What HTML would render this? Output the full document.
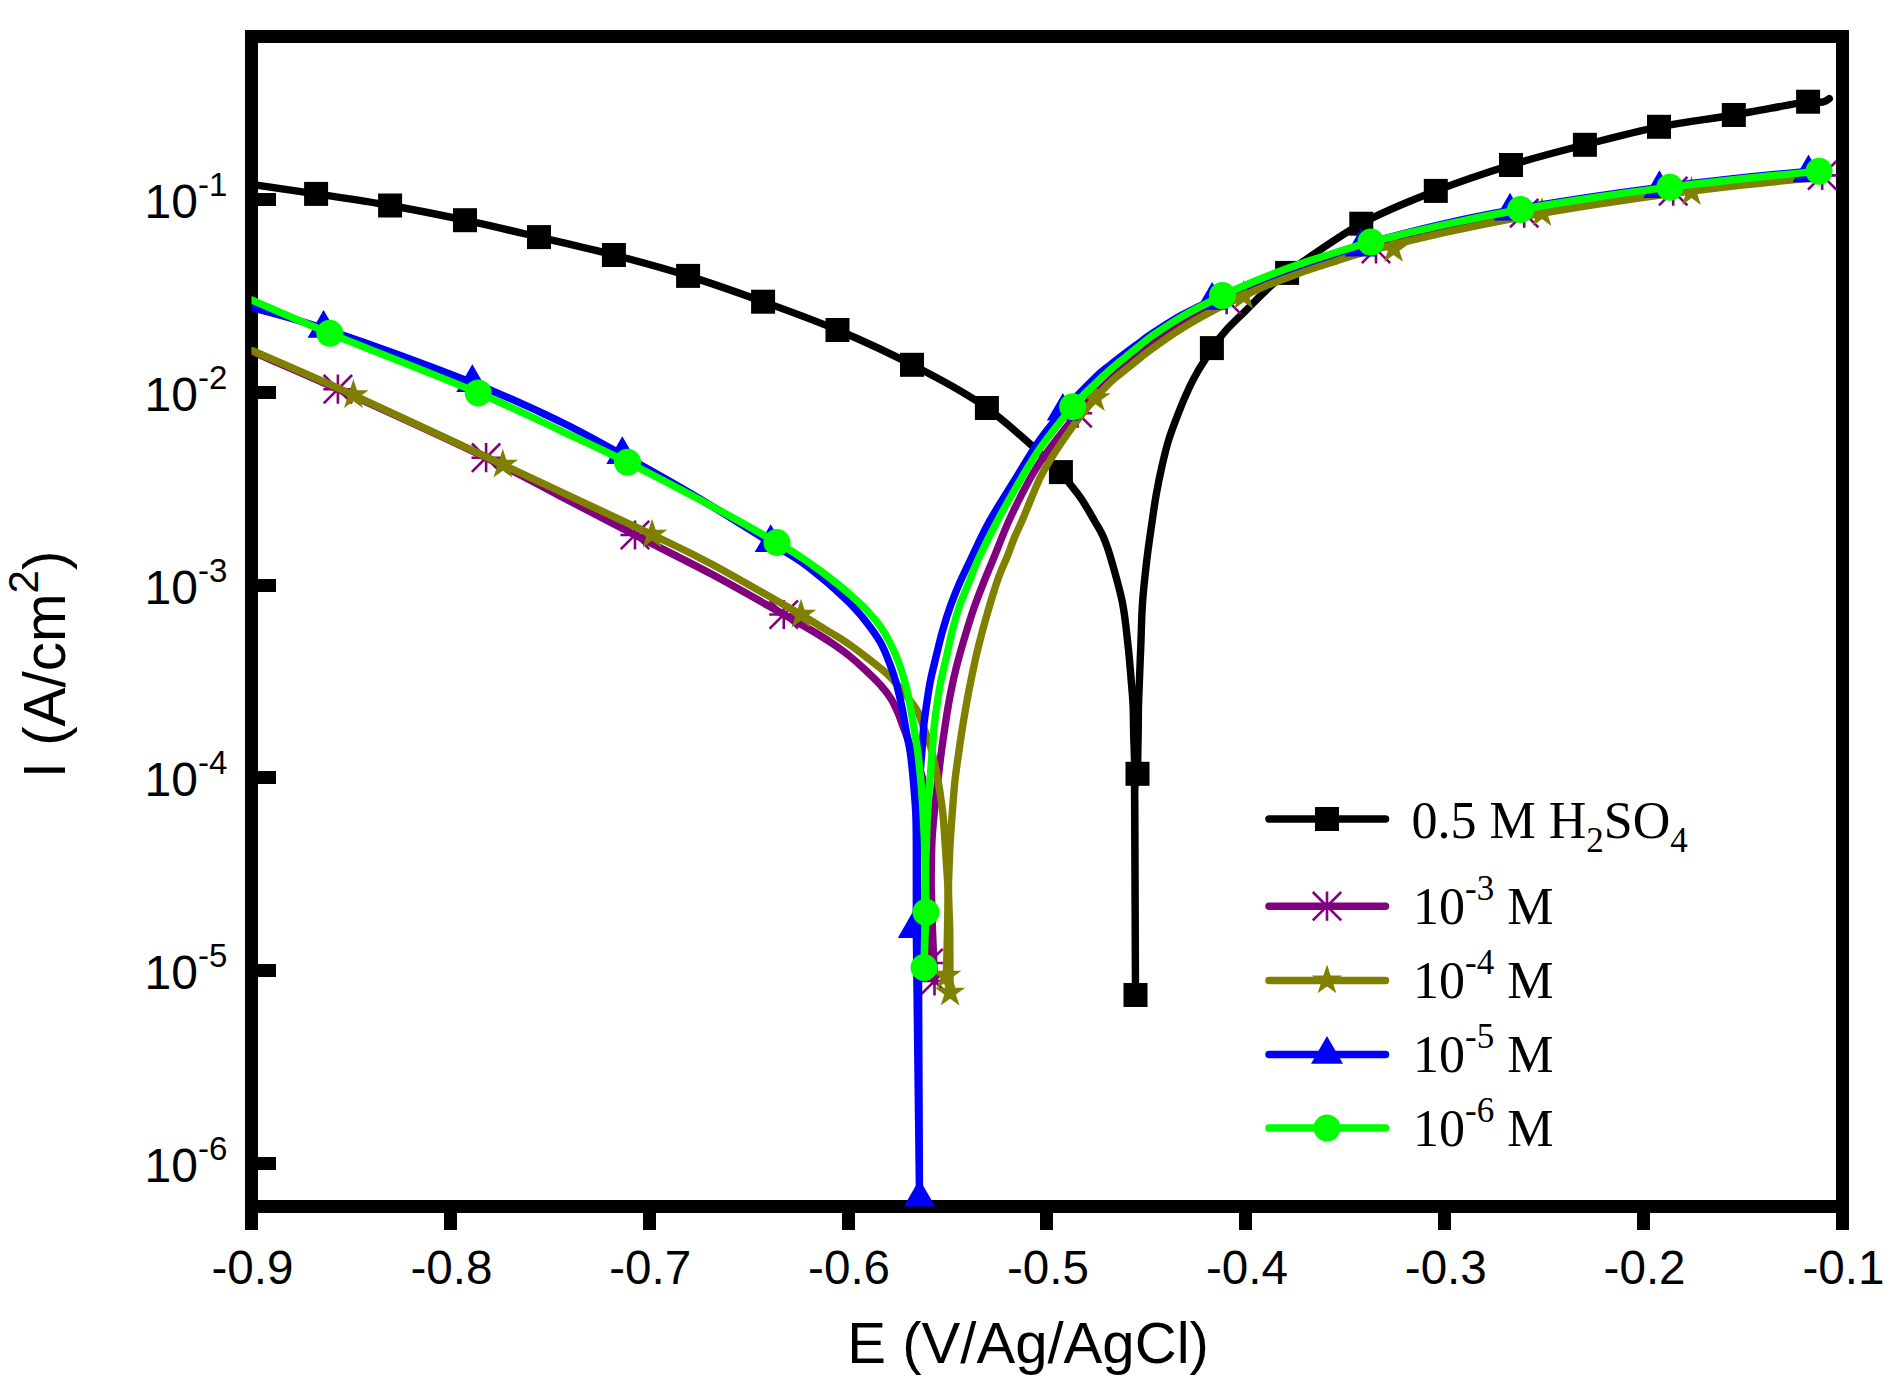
<!DOCTYPE html>
<html lang="en"><head><meta charset="utf-8"><title>Tafel polarization curves</title>
<style>html,body{margin:0;padding:0;background:#fff}body{width:1902px;height:1396px;overflow:hidden}svg{display:block}.a{font-family:"Liberation Sans",Arial,Helvetica,sans-serif;fill:#000}.s{font-family:"Liberation Serif","Times New Roman",Times,serif;fill:#000}</style></head><body>
<svg width="1902" height="1396" viewBox="0 0 1902 1396">
<rect width="1902" height="1396" fill="#fff"/>
<defs><clipPath id="cp"><rect x="251.5" y="36.5" width="1591" height="1170"/></clipPath></defs>
<g fill="#000" shape-rendering="crispEdges">
<path fill-rule="evenodd" d="M245 30H1849V1213H245ZM258 43V1200H1836V43Z"/>
<rect x="245" y="1212" width="13" height="18"/>
<rect x="444" y="1212" width="13" height="18"/>
<rect x="643" y="1212" width="13" height="18"/>
<rect x="842" y="1212" width="13" height="18"/>
<rect x="1040" y="1212" width="13" height="18"/>
<rect x="1239" y="1212" width="13" height="18"/>
<rect x="1438" y="1212" width="13" height="18"/>
<rect x="1637" y="1212" width="13" height="18"/>
<rect x="1836" y="1212" width="13" height="18"/>
<rect x="257" y="193" width="19" height="13"/>
<rect x="257" y="386" width="19" height="13"/>
<rect x="257" y="579" width="19" height="13"/>
<rect x="257" y="771" width="19" height="13"/>
<rect x="257" y="964" width="19" height="13"/>
<rect x="257" y="1157" width="19" height="13"/>
</g>
<g class="a" font-size="47.6" text-anchor="middle">
<text x="252.5" y="1283.5">-0.9</text>
<text x="451.4" y="1283.5">-0.8</text>
<text x="650.2" y="1283.5">-0.7</text>
<text x="849.1" y="1283.5">-0.6</text>
<text x="1048.0" y="1283.5">-0.5</text>
<text x="1246.9" y="1283.5">-0.4</text>
<text x="1445.8" y="1283.5">-0.3</text>
<text x="1644.6" y="1283.5">-0.2</text>
<text x="1843.5" y="1283.5">-0.1</text>
</g>
<g class="a" font-size="48">
<text x="144.6" y="217.9">10<tspan font-size="33" dy="-22">-1</tspan></text>
<text x="144.6" y="410.7">10<tspan font-size="33" dy="-22">-2</tspan></text>
<text x="144.6" y="603.5">10<tspan font-size="33" dy="-22">-3</tspan></text>
<text x="144.6" y="796.3">10<tspan font-size="33" dy="-22">-4</tspan></text>
<text x="144.6" y="989.1">10<tspan font-size="33" dy="-22">-5</tspan></text>
<text x="144.6" y="1181.9">10<tspan font-size="33" dy="-22">-6</tspan></text>
</g>
<text class="a" font-size="58.1" x="847.3" y="1362.8">E (V/Ag/AgCl)</text>
<text class="a" font-size="58.4" transform="translate(64.8 778.3) rotate(-90)">I (A/cm<tspan font-size="42" dy="-26.6">2</tspan><tspan dy="26.6">)</tspan></text>
<g clip-path="url(#cp)" fill="none" stroke-width="7.4" stroke-linejoin="round" stroke-linecap="round">
<path stroke="#000000" d="M251.5 184.3C262.3 185.9 293.0 190.4 316.1 193.9C339.2 197.4 365.3 201.1 390.1 205.5C414.9 209.9 440.2 214.9 465.0 220.2C489.8 225.5 514.2 231.3 539.0 237.1C563.8 242.9 589.0 248.5 613.9 255.0C638.8 261.5 663.2 268.1 688.1 275.9C713.0 283.7 738.2 292.7 763.1 301.7C788.0 310.7 812.7 319.5 837.5 330.0C862.3 340.5 887.1 351.8 912.0 364.8C936.9 377.8 962.1 390.1 986.9 408.0C1011.7 425.9 1047.2 459.6 1060.9 472.1C1074.7 484.7 1066.1 478.9 1069.4 483.3C1072.8 487.7 1076.8 492.1 1081.0 498.3C1085.2 504.5 1090.5 513.9 1094.3 520.5C1098.1 527.1 1101.0 531.4 1103.8 538.0C1106.6 544.6 1108.2 549.2 1111.3 560.0C1114.4 570.8 1119.7 588.7 1122.5 603.0C1125.3 617.3 1126.5 631.7 1128.1 646.0C1129.7 660.3 1131.1 679.0 1131.9 689.0C1132.7 699.0 1132.8 698.8 1133.1 706.0C1133.4 713.2 1133.4 722.8 1133.6 732.0C1133.8 741.2 1134.3 749.7 1134.5 761.0C1134.7 772.3 1134.4 761.0 1134.6 800.0C1134.8 839.0 1135.3 962.5 1135.5 995.0C1135.4 962.5 1134.9 832.5 1134.8 800.0C1134.8 797.8 1134.5 791.4 1134.9 787.0C1135.4 782.6 1137.1 776.0 1137.5 773.8C1137.6 766.8 1138.0 743.3 1138.2 732.0C1138.4 720.7 1138.3 713.2 1138.5 706.0C1138.7 698.8 1138.7 699.0 1139.1 689.0C1139.5 679.0 1140.2 660.3 1140.8 646.0C1141.4 631.7 1141.5 617.3 1142.5 603.0C1143.5 588.7 1145.2 573.7 1146.8 560.0C1148.4 546.3 1150.6 531.9 1152.2 520.9C1153.8 509.9 1154.7 503.2 1156.3 494.2C1157.9 485.2 1159.7 475.9 1161.8 466.8C1163.9 457.7 1166.0 448.6 1168.8 439.5C1171.6 430.4 1175.4 420.8 1178.8 412.1C1182.2 403.4 1186.1 394.4 1189.3 387.5C1192.5 380.6 1195.3 375.7 1198.0 371.0C1200.7 366.3 1202.9 363.2 1205.2 359.4C1207.5 355.6 1208.6 352.8 1211.9 348.1C1215.2 343.4 1219.5 337.5 1225.0 331.4C1230.5 325.3 1238.3 318.0 1245.0 311.4C1251.7 304.8 1258.0 297.9 1265.0 291.5C1272.0 285.1 1271.0 284.2 1287.1 272.9C1303.1 261.6 1336.5 237.4 1361.3 223.7C1386.1 210.0 1410.8 200.7 1435.8 190.9C1460.8 181.1 1486.2 172.7 1511.0 165.0C1535.8 157.3 1560.2 151.2 1584.9 144.8C1609.6 138.4 1634.2 131.8 1659.0 126.8C1683.8 121.8 1709.0 119.2 1733.8 115.0C1758.6 110.8 1793.7 103.8 1808.1 101.7C1822.5 99.6 1817.1 102.5 1820.0 102.4C1822.9 102.3 1824.0 101.6 1825.5 101.0C1827.0 100.4 1828.7 99.0 1829.3 98.6"/>
<g fill="#000000" stroke="none">
<rect x="304.1" y="181.9" width="24" height="24"/>
<rect x="378.1" y="193.5" width="24" height="24"/>
<rect x="453.0" y="208.2" width="24" height="24"/>
<rect x="527.0" y="225.1" width="24" height="24"/>
<rect x="601.9" y="243.0" width="24" height="24"/>
<rect x="676.1" y="263.9" width="24" height="24"/>
<rect x="751.1" y="289.7" width="24" height="24"/>
<rect x="825.5" y="318.0" width="24" height="24"/>
<rect x="900.0" y="352.8" width="24" height="24"/>
<rect x="974.9" y="396.0" width="24" height="24"/>
<rect x="1048.9" y="460.1" width="24" height="24"/>
<rect x="1125.5" y="761.8" width="24" height="24"/>
<rect x="1123.5" y="983.0" width="24" height="24"/>
<rect x="1199.9" y="336.1" width="24" height="24"/>
<rect x="1275.1" y="260.9" width="24" height="24"/>
<rect x="1349.3" y="211.7" width="24" height="24"/>
<rect x="1423.8" y="178.9" width="24" height="24"/>
<rect x="1499.0" y="153.0" width="24" height="24"/>
<rect x="1572.9" y="132.8" width="24" height="24"/>
<rect x="1647.0" y="114.8" width="24" height="24"/>
<rect x="1721.8" y="103.0" width="24" height="24"/>
<rect x="1796.1" y="89.7" width="24" height="24"/>
</g>
<path stroke="#800080" d="M251.5 351.5C265.9 357.8 298.8 371.5 337.9 389.2C377.0 406.9 449.1 439.9 486.1 457.7C523.1 475.5 535.2 483.1 560.0 496.0C584.8 508.9 609.8 522.0 635.0 535.0C660.2 548.0 686.6 560.9 711.4 574.1C736.2 587.4 769.0 606.2 783.8 614.5C798.6 622.8 794.0 620.2 800.0 623.7C806.0 627.2 814.2 631.9 820.0 635.5C825.8 639.1 830.0 641.8 835.0 645.3C840.0 648.8 845.1 652.4 850.1 656.5C855.1 660.6 860.1 665.1 865.1 669.8C870.1 674.5 875.9 680.0 880.2 684.8C884.5 689.5 887.7 693.5 890.7 698.3C893.7 703.1 896.2 708.9 898.2 713.4C900.2 717.9 900.7 720.1 902.7 725.4C904.7 730.7 907.6 738.9 910.0 745.0C912.4 751.1 914.9 756.5 917.0 762.0C919.1 767.5 921.1 771.7 922.5 778.0C923.9 784.3 924.8 789.7 925.5 800.0C926.2 810.3 926.6 823.3 927.0 840.0C927.4 856.7 927.8 879.5 928.0 900.0C928.2 920.5 928.4 952.5 928.5 963.0C929.5 966.0 933.5 978.0 934.5 981.0C934.2 972.5 932.8 938.5 932.5 930.0C932.3 923.3 931.5 899.9 931.3 890.0C931.1 880.1 931.2 878.7 931.3 870.4C931.4 862.1 931.5 850.3 932.0 840.3C932.5 830.3 933.5 820.6 934.5 810.2C935.5 799.8 937.0 788.0 938.2 778.0C939.4 768.0 940.2 760.0 941.6 750.0C943.0 740.0 944.8 727.5 946.3 717.9C947.8 708.3 949.0 701.1 950.8 692.3C952.5 683.5 954.5 674.3 956.8 665.3C959.1 656.3 961.6 647.5 964.4 638.2C967.2 628.9 970.4 618.4 973.4 609.6C976.4 600.8 979.1 593.9 982.4 585.6C985.6 577.3 987.9 572.1 992.9 560.0C997.9 547.9 1004.7 529.1 1012.5 513.0C1020.3 496.9 1028.7 479.7 1039.5 463.1C1050.3 446.5 1068.3 424.6 1077.6 413.2C1086.8 401.8 1089.6 400.2 1095.0 394.7C1100.4 389.1 1105.0 384.6 1110.0 379.9C1115.0 375.2 1120.0 370.9 1125.0 366.5C1130.0 362.0 1135.5 357.2 1140.0 353.4C1144.5 349.6 1145.0 348.7 1152.0 343.7C1159.0 338.7 1170.3 330.5 1182.0 323.4C1193.7 316.4 1209.4 307.8 1222.4 301.3C1235.4 294.8 1247.6 289.6 1260.0 284.5C1272.4 279.3 1284.5 274.7 1297.0 270.3C1309.5 265.9 1322.7 261.7 1335.0 257.9C1347.3 254.0 1352.6 251.9 1370.9 247.1C1389.2 242.3 1420.1 234.7 1445.0 229.1C1469.9 223.6 1495.5 218.3 1520.5 213.7C1545.5 209.2 1570.1 205.4 1595.0 201.7C1619.9 198.0 1644.9 194.6 1669.9 191.4C1694.9 188.3 1720.2 185.4 1745.0 182.8C1769.8 180.1 1805.8 176.9 1819.0 175.6C1832.2 174.3 1823.2 175.2 1824.0 175.1"/>
<g stroke="#800080" stroke-width="2.6" stroke-linecap="butt">
<path d="M337.9 374.6V403.8M323.3 389.2H352.5M323.7 375.0L352.1 403.4M323.7 403.4L352.1 375.0"/>
<path d="M486.1 443.1V472.3M471.5 457.7H500.7M471.9 443.5L500.3 471.9M471.9 471.9L500.3 443.5"/>
<path d="M635.0 520.4V549.6M620.4 535.0H649.6M620.8 520.8L649.2 549.2M620.8 549.2L649.2 520.8"/>
<path d="M783.8 599.9V629.1M769.2 614.5H798.4M769.6 600.3L798.0 628.7M769.6 628.7L798.0 600.3"/>
<path d="M928.5 948.4V977.6M913.9 963.0H943.1M914.3 948.8L942.7 977.2M914.3 977.2L942.7 948.8"/>
<path d="M934.5 966.4V995.6M919.9 981.0H949.1M920.3 966.8L948.7 995.2M920.3 995.2L948.7 966.8"/>
<path d="M1077.6 398.6V427.8M1063.0 413.2H1092.2M1063.4 399.0L1091.8 427.4M1063.4 427.4L1091.8 399.0"/>
<path d="M1226.6 285.0V314.2M1212.0 299.6H1241.2M1212.4 285.4L1240.8 313.8M1212.4 313.8L1240.8 285.4"/>
<path d="M1376.0 234.4V263.6M1361.4 249.0H1390.6M1361.8 234.8L1390.2 263.2M1361.8 263.2L1390.2 234.8"/>
<path d="M1524.2 198.6V227.8M1509.6 213.2H1538.8M1510.0 199.0L1538.4 227.4M1510.0 227.4L1538.4 199.0"/>
<path d="M1673.2 176.5V205.7M1658.6 191.1H1687.8M1659.0 176.9L1687.4 205.3M1659.0 205.3L1687.4 176.9"/>
<path d="M1822.2 160.8V190.0M1807.6 175.4H1836.8M1808.0 161.2L1836.4 189.6M1808.0 189.6L1836.4 161.2"/>
</g>
<path stroke="#808000" d="M251.5 350.3C268.5 357.8 311.5 376.0 353.4 395.1C395.3 414.2 453.0 441.4 502.8 464.7C552.6 488.0 617.3 518.2 652.1 534.7C686.9 551.2 686.6 550.7 711.4 564.0C736.2 577.3 782.9 604.3 801.0 614.7C819.1 625.1 814.3 622.8 820.0 626.2C825.7 629.6 830.0 632.1 835.0 635.2C840.0 638.3 845.1 641.5 850.1 645.0C855.1 648.5 860.1 652.4 865.1 656.2C870.1 660.0 875.9 664.5 880.2 668.0C884.5 671.5 886.9 673.4 890.7 677.3C894.5 681.2 898.8 686.2 903.0 691.5C907.2 696.8 913.2 704.2 916.2 708.9C919.2 713.5 918.8 714.1 920.8 719.4C922.8 724.7 926.5 735.4 928.3 740.5C930.1 745.6 929.9 743.4 931.5 750.0C933.1 756.6 936.2 770.1 938.0 780.1C939.8 790.1 941.5 801.9 942.5 810.2C943.5 818.5 943.5 820.0 944.2 830.0C944.9 840.0 946.3 860.4 946.9 870.4C947.5 880.4 947.8 880.1 947.9 890.0C948.0 899.9 947.8 915.7 947.5 930.0C947.2 944.3 946.5 968.0 946.3 975.6C946.9 978.5 949.5 989.9 950.1 992.7C950.0 982.2 949.8 940.5 949.8 930.0C949.6 923.3 948.6 899.9 948.5 890.0C948.4 880.1 948.7 878.7 949.0 870.4C949.3 862.1 949.7 850.3 950.3 840.3C950.9 830.3 951.7 820.2 952.5 810.2C953.3 800.2 954.0 789.2 955.0 780.1C956.0 771.0 957.1 763.9 958.3 755.5C959.5 747.1 960.7 738.7 962.1 729.9C963.5 721.1 965.0 711.9 966.6 702.9C968.2 693.9 970.0 684.8 971.9 675.8C973.8 666.8 975.6 658.0 977.9 648.7C980.1 639.4 982.9 629.2 985.4 620.2C987.9 611.2 990.5 602.4 992.9 594.6C995.3 586.8 997.7 579.6 1000.0 573.5C1002.3 567.4 1004.3 563.8 1006.7 557.9C1009.1 552.0 1011.5 544.6 1014.3 538.0C1017.0 531.4 1018.9 528.0 1023.2 518.0C1027.5 508.0 1035.0 488.5 1040.0 478.0C1045.0 467.5 1048.7 462.3 1053.3 455.0C1057.9 447.7 1062.8 440.6 1067.4 434.0C1072.0 427.4 1076.3 421.5 1081.0 415.5C1085.7 409.5 1090.6 403.6 1095.4 398.1C1100.2 392.6 1105.1 387.3 1110.0 382.6C1114.9 377.9 1120.0 374.2 1125.0 370.2C1130.0 366.1 1135.5 361.7 1140.0 358.1C1144.5 354.6 1145.0 353.8 1152.0 348.8C1159.0 343.8 1170.3 335.4 1182.0 328.3C1193.7 321.1 1209.4 312.5 1222.4 305.8C1235.4 299.2 1247.6 293.6 1260.0 288.3C1272.4 283.0 1284.5 278.4 1297.0 273.9C1309.5 269.4 1322.7 265.3 1335.0 261.4C1347.3 257.5 1352.6 255.3 1370.9 250.5C1389.2 245.7 1420.1 238.1 1445.0 232.5C1469.9 227.0 1495.5 221.8 1520.5 217.1C1545.5 212.5 1570.1 208.5 1595.0 204.6C1619.9 200.8 1644.9 197.1 1669.9 193.8C1694.9 190.5 1720.2 187.6 1745.0 184.8C1769.8 182.1 1805.8 178.7 1819.0 177.3C1832.2 176.0 1823.2 176.9 1824.0 176.8"/>
<g fill="#808000" stroke="none">
<path d="M353.4 379.1L357.0 390.2L368.6 390.2L359.2 397.0L362.8 408.0L353.4 401.2L344.0 408.0L347.6 397.0L338.2 390.2L349.8 390.2Z"/>
<path d="M502.8 448.7L506.4 459.8L518.0 459.8L508.6 466.6L512.2 477.6L502.8 470.8L493.4 477.6L497.0 466.6L487.6 459.8L499.2 459.8Z"/>
<path d="M652.1 518.7L655.7 529.8L667.3 529.8L657.9 536.6L661.5 547.6L652.1 540.8L642.7 547.6L646.3 536.6L636.9 529.8L648.5 529.8Z"/>
<path d="M801.0 598.7L804.6 609.8L816.2 609.8L806.8 616.6L810.4 627.6L801.0 620.8L791.6 627.6L795.2 616.6L785.8 609.8L797.4 609.8Z"/>
<path d="M946.3 959.6L949.9 970.7L961.5 970.7L952.1 977.5L955.7 988.5L946.3 981.7L936.9 988.5L940.5 977.5L931.1 970.7L942.7 970.7Z"/>
<path d="M950.1 976.7L953.7 987.8L965.3 987.8L955.9 994.6L959.5 1005.6L950.1 998.8L940.7 1005.6L944.3 994.6L934.9 987.8L946.5 987.8Z"/>
<path d="M1095.4 382.1L1099.0 393.2L1110.6 393.2L1101.2 400.0L1104.8 411.0L1095.4 404.2L1086.0 411.0L1089.6 400.0L1080.2 393.2L1091.8 393.2Z"/>
<path d="M1243.7 279.8L1247.3 290.9L1258.9 290.9L1249.5 297.7L1253.1 308.7L1243.7 301.9L1234.3 308.7L1237.9 297.7L1228.5 290.9L1240.1 290.9Z"/>
<path d="M1393.6 232.9L1397.2 244.0L1408.8 244.0L1399.4 250.8L1403.0 261.8L1393.6 255.0L1384.2 261.8L1387.8 250.8L1378.4 244.0L1390.0 244.0Z"/>
<path d="M1542.0 197.0L1545.6 208.1L1557.2 208.1L1547.8 214.9L1551.4 225.9L1542.0 219.1L1532.6 225.9L1536.2 214.9L1526.8 208.1L1538.4 208.1Z"/>
<path d="M1691.5 176.0L1695.1 187.1L1706.7 187.1L1697.3 193.9L1700.9 204.9L1691.5 198.1L1682.1 204.9L1685.7 193.9L1676.3 187.1L1687.9 187.1Z"/>
</g>
<path stroke="#0000ff" d="M251.5 307.5C263.5 311.0 286.8 316.0 323.6 328.5C360.4 341.0 432.9 367.2 472.3 382.7C511.7 398.2 535.0 409.5 560.0 421.5C585.0 433.5 599.0 441.9 622.3 454.8C645.6 467.7 675.3 484.3 700.0 499.0C724.7 513.7 754.0 532.5 770.7 542.8C787.4 553.1 791.8 555.4 800.0 561.0C808.2 566.6 814.2 571.8 820.0 576.5C825.8 581.2 830.0 584.8 835.0 589.3C840.0 593.8 845.1 598.3 850.1 603.5C855.1 608.7 860.1 614.1 865.1 620.5C870.1 626.9 876.2 635.0 880.2 642.0C884.2 649.0 886.5 655.2 889.2 662.3C892.0 669.4 894.6 677.3 896.7 684.8C898.8 692.3 900.4 699.4 902.0 707.4C903.6 715.4 905.1 725.5 906.5 732.9C907.9 740.3 909.2 745.0 910.2 752.0C911.2 759.0 911.9 765.3 912.8 775.0C913.7 784.7 915.0 799.3 915.6 810.2C916.2 821.1 916.2 820.3 916.3 840.3C916.4 860.3 916.3 915.0 916.3 930.0C916.8 974.6 919.0 1153.2 919.5 1197.8C919.3 1153.2 918.5 974.6 918.3 930.0C918.2 921.7 917.7 895.0 917.5 880.0C917.3 865.0 917.2 851.7 917.3 840.0C917.4 828.3 917.5 821.7 918.0 810.0C918.5 798.3 919.7 780.3 920.4 770.0C921.1 759.7 921.6 755.4 922.2 748.0C922.8 740.6 923.0 732.9 923.8 725.4C924.6 717.9 925.7 710.4 926.8 702.9C927.9 695.4 929.0 687.8 930.5 680.3C932.0 672.8 933.8 666.0 935.8 657.7C937.8 649.4 940.1 639.5 942.6 630.7C945.1 621.9 947.9 613.1 950.8 605.1C953.7 597.1 956.5 590.1 959.8 582.6C963.1 575.1 965.6 569.9 970.4 560.0C975.2 550.1 981.2 536.2 988.5 523.0C995.8 509.8 1005.8 494.6 1014.3 480.8C1022.8 467.0 1031.4 452.0 1039.5 440.4C1047.6 428.8 1053.5 421.8 1062.8 411.4C1072.0 401.0 1087.1 385.5 1095.0 377.8C1102.9 370.1 1105.0 369.1 1110.0 365.1C1115.0 361.1 1120.0 357.3 1125.0 353.5C1130.0 349.7 1135.5 345.7 1140.0 342.4C1144.5 339.1 1145.0 338.2 1152.0 333.7C1159.0 329.2 1170.3 321.5 1182.0 315.1C1193.7 308.8 1209.4 301.4 1222.4 295.6C1235.4 289.8 1247.6 285.1 1260.0 280.2C1272.4 275.3 1284.5 270.8 1297.0 266.4C1309.5 262.0 1322.7 257.8 1335.0 253.8C1347.3 249.7 1352.6 247.3 1370.9 242.2C1389.2 237.2 1420.1 229.1 1445.0 223.5C1469.9 217.9 1495.5 213.0 1520.5 208.5C1545.5 204.0 1570.1 200.2 1595.0 196.5C1619.9 192.8 1644.9 189.4 1669.9 186.2C1694.9 183.0 1720.2 180.2 1745.0 177.5C1769.8 174.8 1805.8 171.6 1819.0 170.3C1832.2 169.0 1823.2 169.9 1824.0 169.8"/>
<g fill="#0000ff" stroke="none">
<path d="M323.6 310.0L339.6 337.8L307.6 337.8Z"/>
<path d="M472.3 364.2L488.3 391.9L456.3 391.9Z"/>
<path d="M622.3 436.3L638.3 464.1L606.3 464.1Z"/>
<path d="M770.7 524.3L786.7 552.0L754.7 552.0Z"/>
<path d="M913.8 910.1L929.8 937.9L897.8 937.9Z"/>
<path d="M919.5 1179.3L935.5 1207.0L903.5 1207.0Z"/>
<path d="M1062.8 392.9L1078.8 420.6L1046.8 420.6Z"/>
<path d="M1212.1 282.0L1228.1 309.8L1196.1 309.8Z"/>
<path d="M1360.8 228.6L1376.8 256.4L1344.8 256.4Z"/>
<path d="M1510.0 192.7L1526.0 220.4L1494.0 220.4Z"/>
<path d="M1659.4 170.3L1675.4 198.1L1643.4 198.1Z"/>
<path d="M1808.5 154.4L1824.5 182.2L1792.5 182.2Z"/>
</g>
<path stroke="#00ff00" d="M251.5 300.0C264.6 305.6 292.0 317.8 329.8 333.3C367.6 348.8 439.8 376.7 478.2 392.9C516.6 409.1 535.1 418.7 560.0 430.3C584.9 441.9 602.3 449.7 627.5 462.3C652.7 474.9 686.5 492.6 711.4 506.0C736.3 519.4 762.2 534.1 777.0 542.5C791.8 550.9 792.8 551.8 800.0 556.5C807.2 561.2 814.2 566.2 820.0 570.5C825.8 574.8 830.0 578.0 835.0 582.0C840.0 586.0 845.1 590.1 850.1 594.5C855.1 598.9 860.1 603.2 865.1 608.5C870.1 613.8 875.9 620.2 880.2 626.2C884.5 632.2 887.5 637.7 890.7 644.2C894.0 650.7 897.1 658.0 899.7 665.3C902.3 672.6 904.6 680.3 906.5 687.8C908.4 695.3 909.6 702.9 911.0 710.4C912.4 717.9 913.6 726.0 914.7 732.9C915.8 739.8 916.8 744.1 917.8 752.0C918.8 759.9 919.9 770.4 920.8 780.1C921.6 789.8 922.3 800.2 922.9 810.2C923.5 820.2 924.0 830.3 924.4 840.3C924.8 850.3 925.1 858.4 925.2 870.4C925.3 882.4 925.4 895.8 925.2 912.0C925.0 928.2 924.2 958.2 924.0 967.5C924.3 958.3 925.5 928.5 925.8 912.3C926.1 896.1 925.6 882.4 925.7 870.4C925.8 858.4 926.2 850.3 926.5 840.3C926.8 830.3 927.1 820.2 927.7 810.2C928.3 800.2 929.2 790.1 930.0 780.1C930.8 770.1 931.6 759.1 932.3 750.0C933.0 740.9 933.5 733.2 934.3 725.4C935.1 717.5 936.2 710.4 937.3 702.9C938.4 695.4 939.6 687.8 941.1 680.3C942.6 672.8 944.4 666.0 946.3 657.7C948.2 649.4 950.0 639.5 952.3 630.7C954.5 621.9 957.0 613.1 959.8 605.1C962.6 597.1 965.9 590.1 968.9 582.6C971.9 575.1 973.1 570.4 977.9 560.0C982.7 549.6 991.8 531.6 997.9 520.0C1004.0 508.4 1007.4 502.3 1014.3 490.5C1021.2 478.7 1029.8 463.2 1039.5 449.2C1049.2 435.2 1063.5 417.6 1072.7 406.7C1082.0 395.8 1088.8 389.9 1095.0 383.8C1101.2 377.7 1105.0 374.4 1110.0 370.0C1115.0 365.6 1120.0 361.6 1125.0 357.5C1130.0 353.4 1135.5 349.0 1140.0 345.4C1144.5 341.8 1145.0 340.8 1152.0 336.0C1159.0 331.2 1170.3 323.3 1182.0 316.6C1193.7 309.9 1209.4 301.9 1222.4 295.6C1235.4 289.3 1247.6 284.1 1260.0 279.0C1272.4 273.9 1284.5 269.4 1297.0 265.0C1309.5 260.6 1322.7 256.5 1335.0 252.7C1347.3 248.9 1352.6 246.8 1370.9 242.1C1389.2 237.4 1420.1 229.9 1445.0 224.5C1469.9 219.1 1495.5 214.0 1520.5 209.5C1545.5 205.0 1570.1 201.2 1595.0 197.5C1619.9 193.8 1644.9 190.4 1669.9 187.2C1694.9 184.0 1720.2 181.2 1745.0 178.5C1769.8 175.8 1805.8 172.6 1819.0 171.3C1832.2 170.0 1823.2 170.9 1824.0 170.8"/>
<g fill="#00ff00" stroke="none">
<circle cx="329.8" cy="333.3" r="13.5"/>
<circle cx="478.2" cy="392.9" r="13.5"/>
<circle cx="627.5" cy="462.3" r="13.5"/>
<circle cx="777.0" cy="542.5" r="13.5"/>
<circle cx="926.0" cy="912.3" r="13.5"/>
<circle cx="924.0" cy="967.5" r="13.5"/>
<circle cx="1072.7" cy="406.7" r="13.5"/>
<circle cx="1222.4" cy="295.6" r="13.5"/>
<circle cx="1370.9" cy="242.1" r="13.5"/>
<circle cx="1520.5" cy="209.5" r="13.5"/>
<circle cx="1669.9" cy="187.2" r="13.5"/>
<circle cx="1819.0" cy="171.3" r="13.5"/>
</g>
</g>
<g stroke-width="7.5" stroke-linecap="round">
<path stroke="#000000" d="M1269 819.0H1385.5"/>
<g fill="#000000" stroke="none"><rect x="1315.0" y="807.0" width="24" height="24"/></g>
<path stroke="#800080" d="M1269 906.2H1385.5"/>
<g stroke="#800080" stroke-width="2.6" stroke-linecap="butt" fill="none"><path d="M1327.0 891.6V920.8M1312.4 906.2H1341.6M1312.8 892.0L1341.2 920.4M1312.8 920.4L1341.2 892.0"/></g>
<path stroke="#808000" d="M1269 980.4H1385.5"/>
<g fill="#808000" stroke="none"><path d="M1327.0 964.4L1330.6 975.5L1342.2 975.5L1332.8 982.3L1336.4 993.3L1327.0 986.5L1317.6 993.3L1321.2 982.3L1311.8 975.5L1323.4 975.5Z"/></g>
<path stroke="#0000ff" d="M1269 1054.5H1385.5"/>
<g fill="#0000ff" stroke="none"><path d="M1327.0 1036.0L1343.0 1063.8L1311.0 1063.8Z"/></g>
<path stroke="#00ff00" d="M1269 1128.0H1385.5"/>
<g fill="#00ff00" stroke="none"><circle cx="1327.0" cy="1128.0" r="13.5"/></g>
</g>
<g class="s" font-size="52">
<text x="1411.5" y="837.8">0.5 M H<tspan font-size="35" dy="14.2">2</tspan><tspan dy="-14.2">SO</tspan><tspan font-size="35" dy="14.2">4</tspan></text>
<text x="1413" y="923.8">10<tspan font-size="35" dy="-23.7">-3</tspan><tspan dy="23.7"> M</tspan></text>
<text x="1413" y="997.7">10<tspan font-size="35" dy="-23.7">-4</tspan><tspan dy="23.7"> M</tspan></text>
<text x="1413" y="1071.8">10<tspan font-size="35" dy="-23.7">-5</tspan><tspan dy="23.7"> M</tspan></text>
<text x="1413" y="1145.6">10<tspan font-size="35" dy="-23.7">-6</tspan><tspan dy="23.7"> M</tspan></text>
</g>
</svg></body></html>
